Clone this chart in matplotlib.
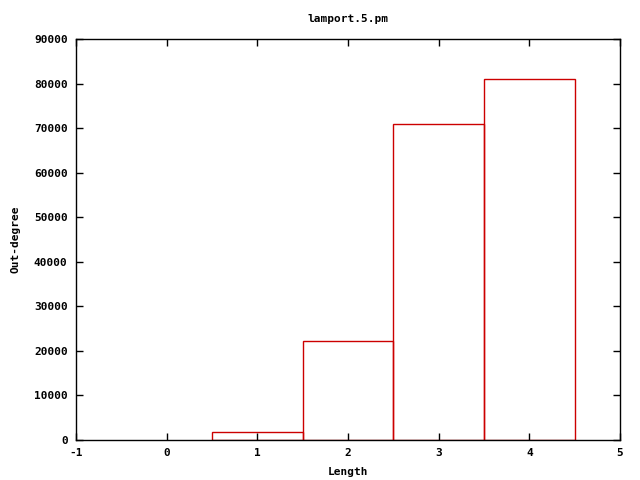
import matplotlib
matplotlib.use("Agg")
import matplotlib.pyplot as plt

lengths = [1, 2, 3, 4]
outdeg = [1800, 22200, 70900, 81000]
xticks = [-1, 0, 1, 2, 3, 4, 5]
yticks = [0, 10000, 20000, 30000, 40000, 50000, 60000, 70000, 80000, 90000]

plt.rcParams['font.family'] = ['DejaVu Sans Mono']
plt.rcParams['font.weight'] = 'bold'
plt.rcParams['font.size'] = 8

fig = plt.figure(figsize=(6.4, 4.8), dpi=100)
ax = fig.add_axes([76/640, 40/480, 544/640, 401/480])
ax.bar(lengths, outdeg, width=1.0, fill=False, edgecolor='#cc0000', linewidth=1.0)
ax.set_xlim(-1, 5)
ax.set_ylim(0, 90000)
ax.set_xticks(xticks)
ax.set_yticks(yticks)
ax.set_xticklabels([str(v) for v in xticks])
ax.set_yticklabels([str(v) for v in yticks])
ax.tick_params(direction='in', top=True, right=True, length=5, width=1, pad=6)
for s in ax.spines.values():
    s.set_linewidth(1)
ax.set_title('lamport.5.pm', fontsize=8, fontweight='bold', pad=12)
ax.set_xlabel('Length', fontweight='bold', labelpad=6)
ax.set_ylabel('Out-degree', fontweight='bold', labelpad=10)
fig.savefig('out.png', dpi=100)
